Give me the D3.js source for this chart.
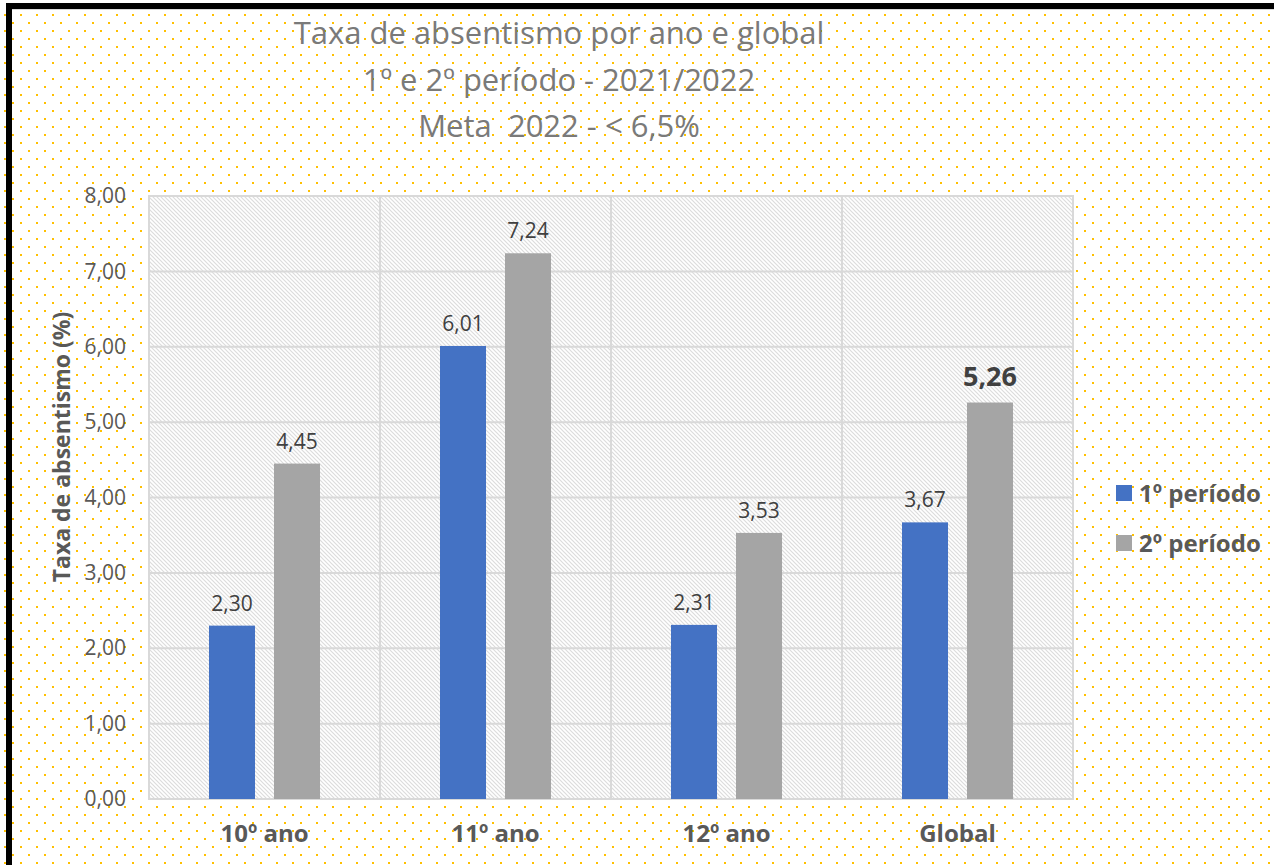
<!DOCTYPE html>
<html>
<head>
<meta charset="utf-8">
<script src="https://cdn.jsdelivr.net/npm/d3@7"></script>
<style>
  html, body { margin: 0; padding: 0; background: #fff; }
  svg { display: block; font-family: "Open Sans", sans-serif; }
</style>
</head>
<body>
<svg id="chart" width="1274" height="865"></svg>
<script>
// chart data
const categories = ["10º ano", "11º ano", "12º ano", "Global"];
const seriesNames = ["1º período", "2º período"];
const periodo1 = [2.30, 6.01, 2.31, 3.67];
const periodo2 = [4.45, 7.24, 3.53, 5.26];
const yTicks = [0, 1, 2, 3, 4, 5, 6, 7, 8];
const titleLines = ["Taxa de absentismo por ano e global", "1º e 2º período - 2021/2022", "Meta  2022 - < 6,5%"];
const yTitle = "Taxa de absentismo (%)";

const colors = ["#4472C4", "#A5A5A5"];
const width = 1274, height = 865;
const plot = { left: 149, top: 196, right: 1073, bottom: 799 };

const svg = d3.select("#chart");
const defs = svg.append("defs");

// yellow dotted background
const dots = defs.append("pattern")
    .attr("id", "dots")
    .attr("patternUnits", "userSpaceOnUse")
    .attr("width", 16).attr("height", 16);
dots.append("rect").attr("x", 4).attr("y", 14).attr("width", 2).attr("height", 2).attr("fill", "#FFC000");
dots.append("rect").attr("x", 12).attr("y", 6).attr("width", 2).attr("height", 2).attr("fill", "#FFC000");

// light diagonal hatch for plot area
const hatch = defs.append("pattern")
    .attr("id", "hatch")
    .attr("patternUnits", "userSpaceOnUse")
    .attr("width", 4).attr("height", 4);
hatch.append("rect").attr("width", 4).attr("height", 4).attr("fill", "#fff");
hatch.append("path")
    .attr("d", "M0,0 L4,4 M-1,3 L1,5 M3,-1 L5,1")
    .attr("stroke", "#dcdcdc")
    .attr("stroke-width", 1.2);

svg.append("rect").attr("width", width).attr("height", height).attr("fill", "#fff");
svg.append("rect").attr("width", width).attr("height", height).attr("fill", "url(#dots)");

// black frame (left and top edges visible)
svg.append("rect").attr("x", 6).attr("y", 3).attr("width", width).attr("height", 6).attr("fill", "#000");
svg.append("rect").attr("x", 6).attr("y", 3).attr("width", 6).attr("height", height).attr("fill", "#000");
svg.append("line").attr("x1", 12).attr("x2", width).attr("y1", 9.5).attr("y2", 9.5)
    .attr("stroke", "#d9d9d9").attr("stroke-width", 1);

// title
svg.append("g").selectAll("text")
    .data(titleLines)
    .join("text")
    .attr("x", 559)
    .attr("y", (d, i) => 44 + i * 46.5)
    .attr("text-anchor", "middle")
    .attr("font-size", "31px")
    .attr("fill", "#7a7a7a")
    .style("white-space", "pre")
    .text(d => d);

// scales
const x = d3.scaleBand()
    .domain(categories)
    .range([plot.left, plot.right]);

const xInner = d3.scaleBand()
    .domain(seriesNames)
    .range([0, x.bandwidth()])
    .paddingInner(0.292)
    .paddingOuter(0.923);

const y = d3.scaleLinear()
    .domain([0, 8])
    .range([plot.bottom, plot.top]);

// plot area
svg.append("rect")
    .attr("x", plot.left).attr("y", plot.top)
    .attr("width", plot.right - plot.left).attr("height", plot.bottom - plot.top)
    .attr("fill", "url(#hatch)");

// gridlines
svg.append("g").selectAll("line")
    .data(yTicks)
    .join("line")
    .attr("x1", plot.left).attr("x2", plot.right)
    .attr("y1", d => y(d)).attr("y2", d => y(d))
    .attr("stroke", "#d9d9d9").attr("stroke-width", 2);

svg.append("g").selectAll("line")
    .data(categories.slice(1))
    .join("line")
    .attr("x1", d => x(d)).attr("x2", d => x(d))
    .attr("y1", plot.top).attr("y2", plot.bottom)
    .attr("stroke", "#d9d9d9").attr("stroke-width", 2);

svg.append("rect")
    .attr("x", plot.left).attr("y", plot.top)
    .attr("width", plot.right - plot.left).attr("height", plot.bottom - plot.top)
    .attr("fill", "none").attr("stroke", "#d9d9d9").attr("stroke-width", 2);

// bars
const rows = categories.map((c, i) => ({ cat: c, values: [periodo1[i], periodo2[i]] }));

const groups = svg.append("g").selectAll("g")
    .data(rows)
    .join("g")
    .attr("transform", d => `translate(${x(d.cat)},0)`);

groups.selectAll("rect")
    .data(d => d.values.map((v, s) => ({ cat: d.cat, s: s, v: v })))
    .join("rect")
    .attr("x", d => xInner(seriesNames[d.s]))
    .attr("width", xInner.bandwidth())
    .attr("y", d => y(d.v))
    .attr("height", d => y(0) - y(d.v))
    .attr("fill", d => colors[d.s]);

// value labels, the global 2nd period one is emphasised
const fmt = v => d3.format(".2f")(v).replace(".", ",");
const isBig = d => d.cat === "Global" && d.s === 1;
groups.selectAll("text")
    .data(d => d.values.map((v, s) => ({ cat: d.cat, s: s, v: v })))
    .join("text")
    .attr("x", d => xInner(seriesNames[d.s]) + xInner.bandwidth() / 2)
    .attr("y", d => y(d.v) - (isBig(d) ? 17 : 15))
    .attr("text-anchor", "middle")
    .attr("font-size", d => isBig(d) ? "27px" : "21px")
    .attr("font-weight", d => isBig(d) ? "bold" : "normal")
    .attr("fill", "#404040")
    .text(d => fmt(d.v));

// y axis
const yAxis = d3.axisLeft(y)
    .tickValues(yTicks)
    .tickSize(0)
    .tickPadding(23)
    .tickFormat(fmt);

const yg = svg.append("g")
    .attr("transform", `translate(${plot.left},0)`)
    .call(yAxis);
yg.select(".domain").remove();
yg.selectAll("text")
    .attr("font-family", "Open Sans")
    .attr("font-size", "21px")
    .attr("fill", "#595959");

// x axis
const xAxis = d3.axisBottom(x).tickSize(0).tickPadding(26);
const xg = svg.append("g")
    .attr("transform", `translate(0,${plot.bottom})`)
    .call(xAxis);
xg.select(".domain").remove();
xg.selectAll("text")
    .attr("font-family", "Open Sans")
    .attr("font-size", "24px")
    .attr("font-weight", "bold")
    .attr("fill", "#595959");

// y title
svg.append("text")
    .attr("transform", "translate(70,447) rotate(-90)")
    .attr("text-anchor", "middle")
    .attr("font-size", "23px")
    .attr("font-weight", "bold")
    .attr("fill", "#595959")
    .text(yTitle);

// legend
const legend = svg.append("g").selectAll("g")
    .data(seriesNames)
    .join("g")
    .attr("transform", (d, i) => `translate(1116,${485 + i * 50})`);
legend.append("rect")
    .attr("width", 16).attr("height", 16)
    .attr("fill", (d, i) => colors[i]);
legend.append("text")
    .attr("x", 23).attr("y", 17)
    .attr("font-size", "24px")
    .attr("font-weight", "bold")
    .attr("fill", "#595959")
    .text(d => d);
</script>
</body>
</html>
